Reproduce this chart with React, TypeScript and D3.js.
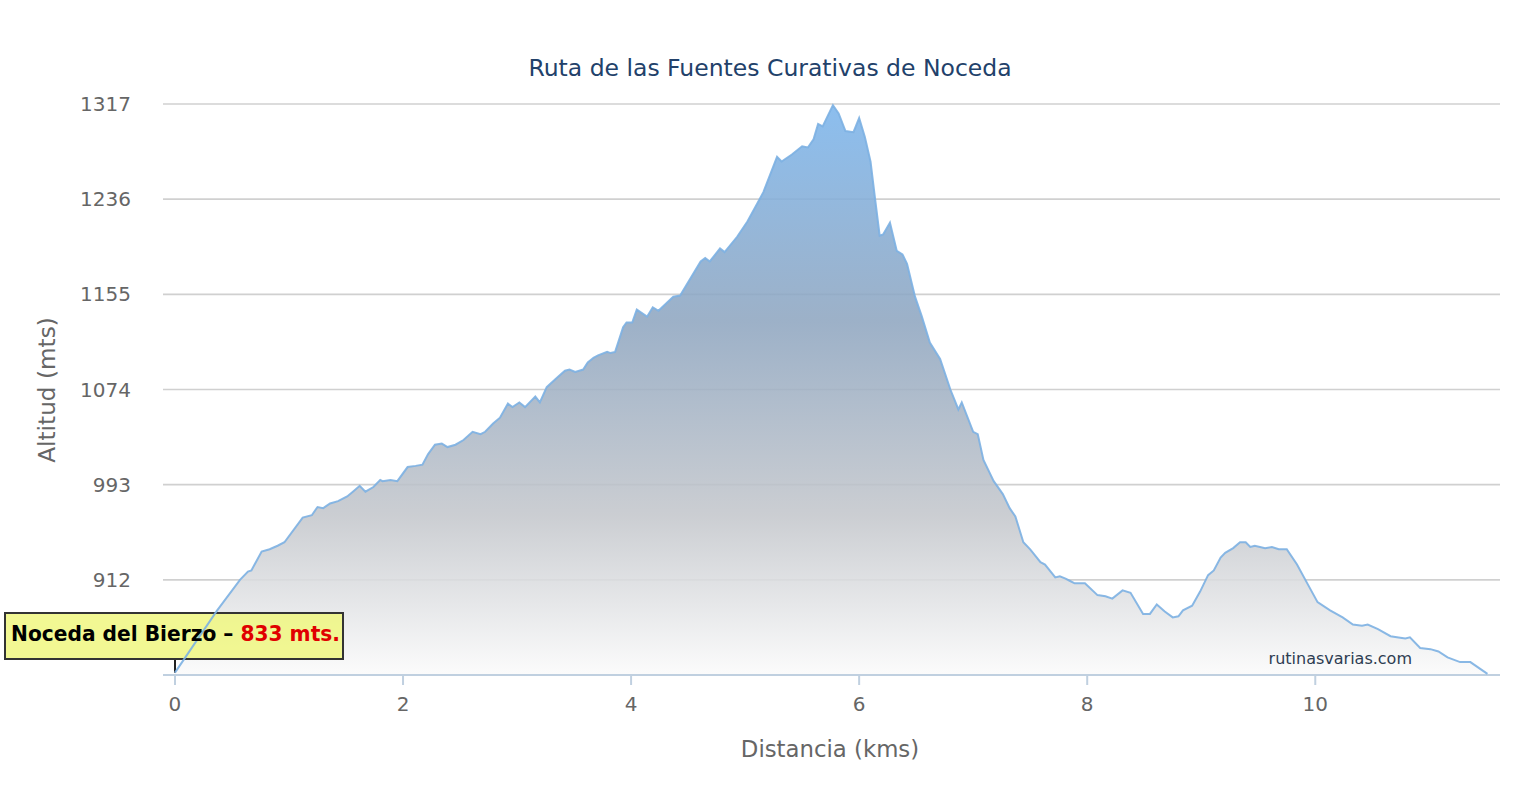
import * as d3 from "d3";

// perfil de la ruta: distancia (km) y altitud (m)
const distKm = [
  0, 0.37, 0.57, 0.64, 0.67, 0.76, 0.83, 0.9, 0.96, 1.12, 1.2, 1.25, 1.3, 1.36, 1.43, 1.51, 1.56, 1.62, 1.67, 1.74,
  1.8, 1.82, 1.89, 1.95, 2.04, 2.11, 2.17, 2.22, 2.28, 2.34, 2.39, 2.46, 2.53, 2.61, 2.68, 2.72, 2.79, 2.85, 2.92, 2.96,
  3.02, 3.07, 3.16, 3.2, 3.26, 3.35, 3.42, 3.46, 3.51, 3.58, 3.62, 3.67, 3.71, 3.79, 3.82, 3.86, 3.93, 3.96, 4.01, 4.05,
  4.14, 4.19, 4.24, 4.37, 4.43, 4.61, 4.65, 4.69, 4.78, 4.82, 4.93, 5.02, 5.11, 5.16, 5.28, 5.32, 5.41, 5.5, 5.55, 5.6,
  5.64, 5.68, 5.77, 5.82, 5.88, 5.95, 6.0, 6.05, 6.1, 6.14, 6.18, 6.21, 6.27, 6.33, 6.38, 6.42, 6.49, 6.55, 6.62, 6.71,
  6.8, 6.87, 6.9, 7.0, 7.04, 7.09, 7.18, 7.26, 7.32, 7.37, 7.44, 7.5, 7.59, 7.63, 7.72, 7.76, 7.81, 7.85, 7.89, 7.98,
  8.09, 8.16, 8.22, 8.31, 8.38, 8.49, 8.55, 8.61, 8.68, 8.75, 8.8, 8.84, 8.92, 8.99, 9.06, 9.11, 9.17, 9.21, 9.28, 9.34,
  9.39, 9.43, 9.47, 9.56, 9.62, 9.68, 9.75, 9.84, 9.93, 10.02, 10.13, 10.24, 10.33, 10.41, 10.46, 10.55, 10.66, 10.73, 10.79, 10.83,
  10.92, 11.01, 11.08, 11.16, 11.27, 11.36, 11.51,
];
const altM = [
  833, 886, 912, 919, 920, 936, 938, 941, 944, 965, 967, 974, 973, 977, 979, 983, 987, 992, 987, 991,
  997, 996, 997, 996, 1008, 1009, 1010, 1019, 1027, 1028, 1025, 1027, 1031, 1038, 1036, 1038, 1045, 1050, 1062, 1059,
  1063, 1059, 1068, 1063, 1076, 1084, 1090, 1091, 1089, 1091, 1097, 1101, 1103, 1106, 1105, 1106, 1127, 1131, 1131, 1142,
  1136, 1144, 1141, 1153, 1154, 1183, 1186, 1183, 1194, 1191, 1204, 1217, 1233, 1242, 1272, 1268, 1274, 1281, 1280, 1287,
  1300, 1298, 1316, 1309, 1294, 1293, 1305, 1289, 1268, 1236, 1205, 1206, 1216, 1192, 1189, 1181, 1153, 1136, 1114, 1100,
  1074, 1057, 1063, 1038, 1036, 1014, 996, 985, 973, 966, 944, 938, 927, 925, 914, 915, 913, 911, 909, 909,
  899, 898, 896, 903, 901, 883, 883, 891, 885, 880, 881, 886, 890, 902, 916, 920, 931, 935, 939, 944,
  944, 940, 941, 939, 940, 938, 938, 925, 909, 893, 886, 880, 874, 873, 874, 870, 864, 863, 862, 863,
  854, 853, 851, 846, 842, 842, 832,
];
const yTicks = [912, 993, 1074, 1155, 1236, 1317];
const xTicks = [0, 2, 4, 6, 8, 10];

const title = "Ruta de las Fuentes Curativas de Noceda";
const startName = "Noceda del Bierzo – ";
const startLabel = "833 mts.";

const font = "'DejaVu Sans', Verdana, sans-serif";

export default function App() {
  const left = 163, right = 1500, top = 104, bottom = 675;
  const x = d3.scaleLinear().domain([-0.105, 11.62]).range([left, right]);
  const y = d3.scaleLinear().domain([831, 1317]).range([bottom, top]);

  const pts: [number, number][] = distKm.map((d, i) => [d, altM[i]]);
  const area = d3.area<[number, number]>()
    .x(d => x(d[0]))
    .y0(y(831))
    .y1(d => y(d[1]));
  const line = d3.line<[number, number]>()
    .x(d => x(d[0]))
    .y(d => y(d[1]));

  const peakY = y(d3.max(altM) as number);

  return (
    <svg width={1540} height={800} style={{ position: "absolute", left: 0, top: 0, background: "#fff" }}>
      <defs>
        <linearGradient id="fill" gradientUnits="userSpaceOnUse" x1={0} y1={peakY} x2={0} y2={bottom}>
          <stop offset="0" stopColor="#7cb5ec" />
          <stop offset="0.38" stopColor="#8fa6c0" />
          <stop offset="0.72" stopColor="#c4c7cc" />
          <stop offset="1" stopColor="#fbfbfb" />
        </linearGradient>
      </defs>

      <text x={770} y={76} textAnchor="middle" fontFamily={font} fontSize={23.5} fill="#22416a">{title}</text>

      {/* rejilla */}
      {yTicks.map(t => (
        <line key={t} x1={left} x2={right} y1={y(t)} y2={y(t)} stroke="#d0d0d0" strokeWidth={1.6} />
      ))}
      {yTicks.map(t => (
        <text key={"l" + t} x={131} y={y(t) + 7} textAnchor="end" fontFamily={font} fontSize={20} fill="#666">{t}</text>
      ))}

      <path d={area(pts) ?? ""} fill="url(#fill)" fillOpacity={0.88} />

      {/* eje x */}
      <line x1={left} x2={right} y1={bottom} y2={bottom} stroke="#c0d0e0" strokeWidth={2} />
      {xTicks.map(t => (
        <g key={t}>
          <line x1={x(t)} x2={x(t)} y1={bottom} y2={bottom + 10} stroke="#c0d0e0" strokeWidth={2} />
          <text x={x(t)} y={711} textAnchor="middle" fontFamily={font} fontSize={20} fill="#666">{t}</text>
        </g>
      ))}

      <text x={830} y={757} textAnchor="middle" fontFamily={font} fontSize={22.8} fill="#666">Distancia (kms)</text>
      <text transform="translate(55,390) rotate(-90)" textAnchor="middle" fontFamily={font} fontSize={23.2} fill="#666">Altitud (mts)</text>

      <text x={1412} y={664} textAnchor="end" fontFamily={font} fontSize={16} fill="#2e3d52">rutinasvarias.com</text>

      {/* etiqueta de inicio */}
      <line x1={x(distKm[0])} x2={x(distKm[0])} y1={659} y2={y(altM[0])} stroke="#222" strokeWidth={2} />
      <rect x={5} y={613} width={338} height={46} fill="#f0f780" fillOpacity={0.85} stroke="#333" strokeWidth={2} />
      <path d={line(pts) ?? ""} fill="none" stroke="#7cb0e2" strokeWidth={2} strokeOpacity={0.9} />
      <text x={11} y={641} fontFamily={font} fontSize={21} fontWeight="bold" fill="#000" textLength={329} lengthAdjust="spacingAndGlyphs">
        {startName}
        <tspan fill="#e00000">{startLabel}</tspan>
      </text>
    </svg>
  );
}
